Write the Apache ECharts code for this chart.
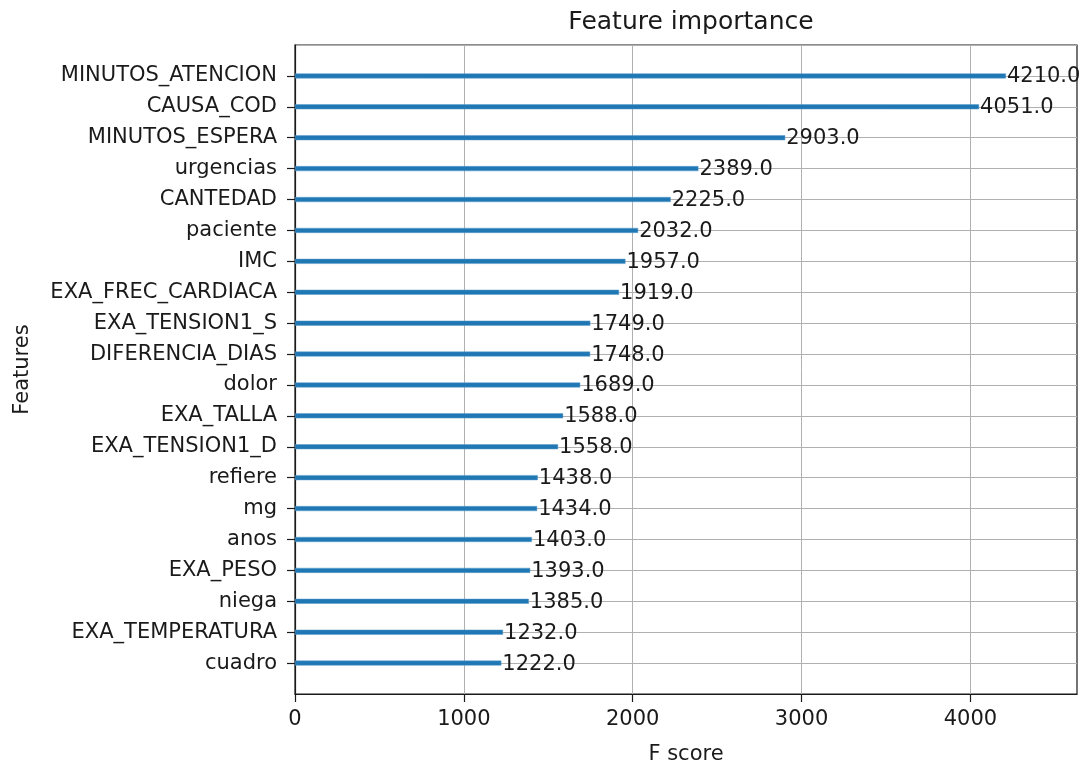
<!DOCTYPE html>
<html>
<head>
<meta charset="utf-8">
<script src="https://cdn.jsdelivr.net/npm/echarts@6/dist/echarts.min.js"></script>
<style>html,body{margin:0;padding:0;background:#fff;}#c{width:1088px;height:768px;}</style>
</head>
<body>
<div id="c"></div>
<script>
// Features listed top to bottom
const features = ['MINUTOS_ATENCION','CAUSA_COD','MINUTOS_ESPERA','urgencias','CANTEDAD','paciente','IMC','EXA_FREC_CARDIACA','EXA_TENSION1_S','DIFERENCIA_DIAS','dolor','EXA_TALLA','EXA_TENSION1_D','refiere','mg','anos','EXA_PESO','niega','EXA_TEMPERATURA','cuadro'];
const fscores = [4210,4051,2903,2389,2225,2032,1957,1919,1749,1748,1689,1588,1558,1438,1434,1403,1393,1385,1232,1222];
const xTicks = [0,1000,2000,3000,4000];
const xMax = 4631;

const cats = [' '].concat(features.slice().reverse(), ['  ']);
const vals = ['-'].concat(fscores.slice().reverse(), ['-']);
const n = cats.length;
const font = 'DejaVu Sans';

const chart = echarts.init(document.getElementById('c'), null, {renderer:'canvas'});
chart.setOption({
  animation: false,
  backgroundColor: '#fff',
  title: {
    text: 'Feature importance', left: 686, top: 5, textAlign: 'center',
    textStyle: {fontFamily: font, fontSize: 25, fontWeight: 'normal', color: '#1a1a1a'}
  },
  grid: {left: 295, right: 11, top: 45, bottom: 74, show: true, borderColor: '#1a1a1a', borderWidth: 1.2,
    backgroundColor: 'transparent', containLabel: false, outerBoundsMode: 'none'},
  xAxis: {
    type: 'value', min: 0, max: xMax, interval: 1000,
    name: 'F score', nameLocation: 'middle', nameGap: 50,
    nameTextStyle: {fontFamily: font, fontSize: 21, color: '#1a1a1a'},
    axisLine: {show: true, lineStyle: {color: '#1a1a1a', width: 1.2}},
    axisTick: {show: true, length: 8, inside: false, customValues: xTicks, lineStyle: {color: '#1a1a1a', width: 1.2}},
    axisLabel: {fontFamily: font, fontSize: 21, color: '#1a1a1a', margin: 15, customValues: xTicks,
      formatter: function(v){return String(v);}},
    splitLine: {show: true, lineStyle: {color: '#b0b0b0', width: 1}}
  },
  yAxis: {
    type: 'category', data: cats, boundaryGap: false,
    name: 'Features', nameLocation: 'middle', nameGap: 262, nameRotate: 90,
    nameTextStyle: {fontFamily: font, fontSize: 21, color: '#1a1a1a'},
    axisLine: {show: true, lineStyle: {color: '#1a1a1a', width: 1.2}},
    axisTick: {show: true, length: 8, interval: function(i){return i > 0 && i < n - 1;}, lineStyle: {color: '#1a1a1a', width: 1.2}},
    axisLabel: {fontFamily: font, fontSize: 21, color: '#1a1a1a', margin: 18, interval: 0},
    splitLine: {show: true, interval: 0, lineStyle: {color: '#b0b0b0', width: 1}}
  },
  series: [{
    type: 'bar', data: vals, barWidth: 5, z: 3,
    itemStyle: {color: '#1f77b4', borderColor: '#5c9ccb', borderWidth: 0.5},
    label: {
      show: true, position: 'right', distance: 1, offset: [0, 1],
      fontFamily: font, fontSize: 21, color: '#1a1a1a',
      formatter: function(p){return Number(p.value).toFixed(1);}
    }
  }]
});
</script>
</body>
</html>
